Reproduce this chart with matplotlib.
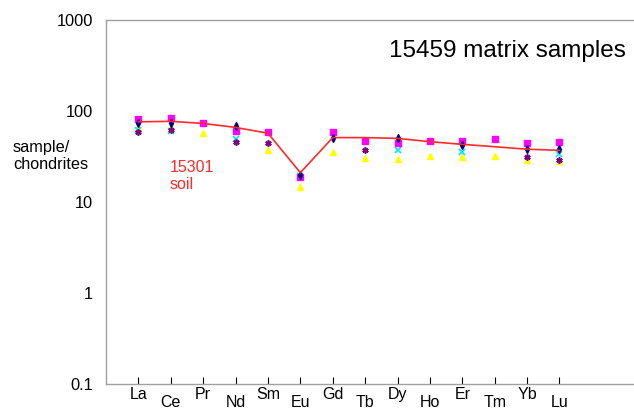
import numpy as np
import matplotlib
matplotlib.use("Agg")
import matplotlib.pyplot as plt

plt.rcParams["font.family"] = ["Liberation Sans", "DejaVu Sans"]

elements = ["La", "Ce", "Pr", "Nd", "Sm", "Eu", "Gd",
            "Tb", "Dy", "Ho", "Er", "Tm", "Yb", "Lu"]
nan = np.nan

# 15301 soil reference curve
soil_15301 = [76, 77, 73, 66, 57, 21, 51, 51, 50, 46, 43, 40.5, 38, 37]

# 15459 matrix samples (chondrite normalised)
sample_a = [81, 84, 73, 60, 59, 19, 59, 47, 44, 47, 47, 49, 44, 46]
sample_b = [74, 74, nan, 68, nan, 19.8, 51, nan, 51, nan, 42, nan, 38, 38]
sample_c = [62, 61, nan, 49, nan, 19.5, nan, nan, 37, nan, 35, nan, nan, 34]
sample_d = [59, 62, nan, 46, 45, 19, nan, 37, nan, nan, nan, nan, 31.2, 29]
sample_e = [66, 66, 58, nan, 37, 14.5, 35.7, 30.7, 30, 32.3, 31.6, 32, 28.6, 28]

x = np.arange(1, len(elements) + 1)

fig = plt.figure(figsize=(6.34, 4.12), dpi=100)
ax = fig.add_axes([106 / 634, 28 / 412, 1 - 106 / 634, 364 / 412])

ax.plot(x, sample_e, linestyle="none", marker="^", ms=4.5, color="#ffff00", zorder=2)
ax.plot(x, sample_c, linestyle="none", marker="x", ms=4.5, mew=1.2, color="#00e5ff", zorder=3)
ax.plot(x, sample_d, linestyle="none", marker=(6, 2, 0), ms=4.5, mew=1.2, color="#800080", zorder=3)
ax.plot(x, sample_a, linestyle="none", marker="s", ms=4.5, color="#ff00ff", zorder=4)
ax.plot(x, sample_b, linestyle="none", marker="d", ms=4, color="#000080", zorder=5)
ax.plot(x, soil_15301, color="#ff2a2a", lw=1.2, zorder=6)

ax.set_yscale("log")
ax.set_ylim(0.1, 1000)
ax.set_xlim(0, 16.3)

ax.set_yticks([0.1, 1, 10, 100, 1000])
ax.set_yticklabels(["0.1", "1", "10", "100", "1000"])
ax.yaxis.set_minor_locator(matplotlib.ticker.NullLocator())
ax.tick_params(axis="y", length=0, pad=9.5, labelsize=11.8)

ax.set_xticks(x)
ax.set_xticklabels(elements)
ax.tick_params(axis="x", direction="in", length=5, width=0.8, labelsize=11.5, pad=2)
for i, tick in enumerate(ax.xaxis.get_major_ticks()):
    tick.set_pad(2 if i % 2 == 0 else 8)

for side in ["left", "top", "bottom"]:
    ax.spines[side].set_color("#a0a0a0")
    ax.spines[side].set_linewidth(1)
ax.spines["right"].set_visible(False)

fig.text(13 / 634, 1 - 156 / 412, "sample/\nchondrites", fontsize=11.7,
         ha="left", va="center", linespacing=1.1)
fig.text(170 / 634, 1 - 176 / 412, "15301\nsoil", fontsize=11.5, color="#ff2a2a",
         ha="left", va="center", linespacing=1.15)
fig.text(626 / 634, 1 - 51 / 412, "15459 matrix samples", fontsize=17.5,
         ha="right", va="center")

fig.savefig("out.png", dpi=100)
